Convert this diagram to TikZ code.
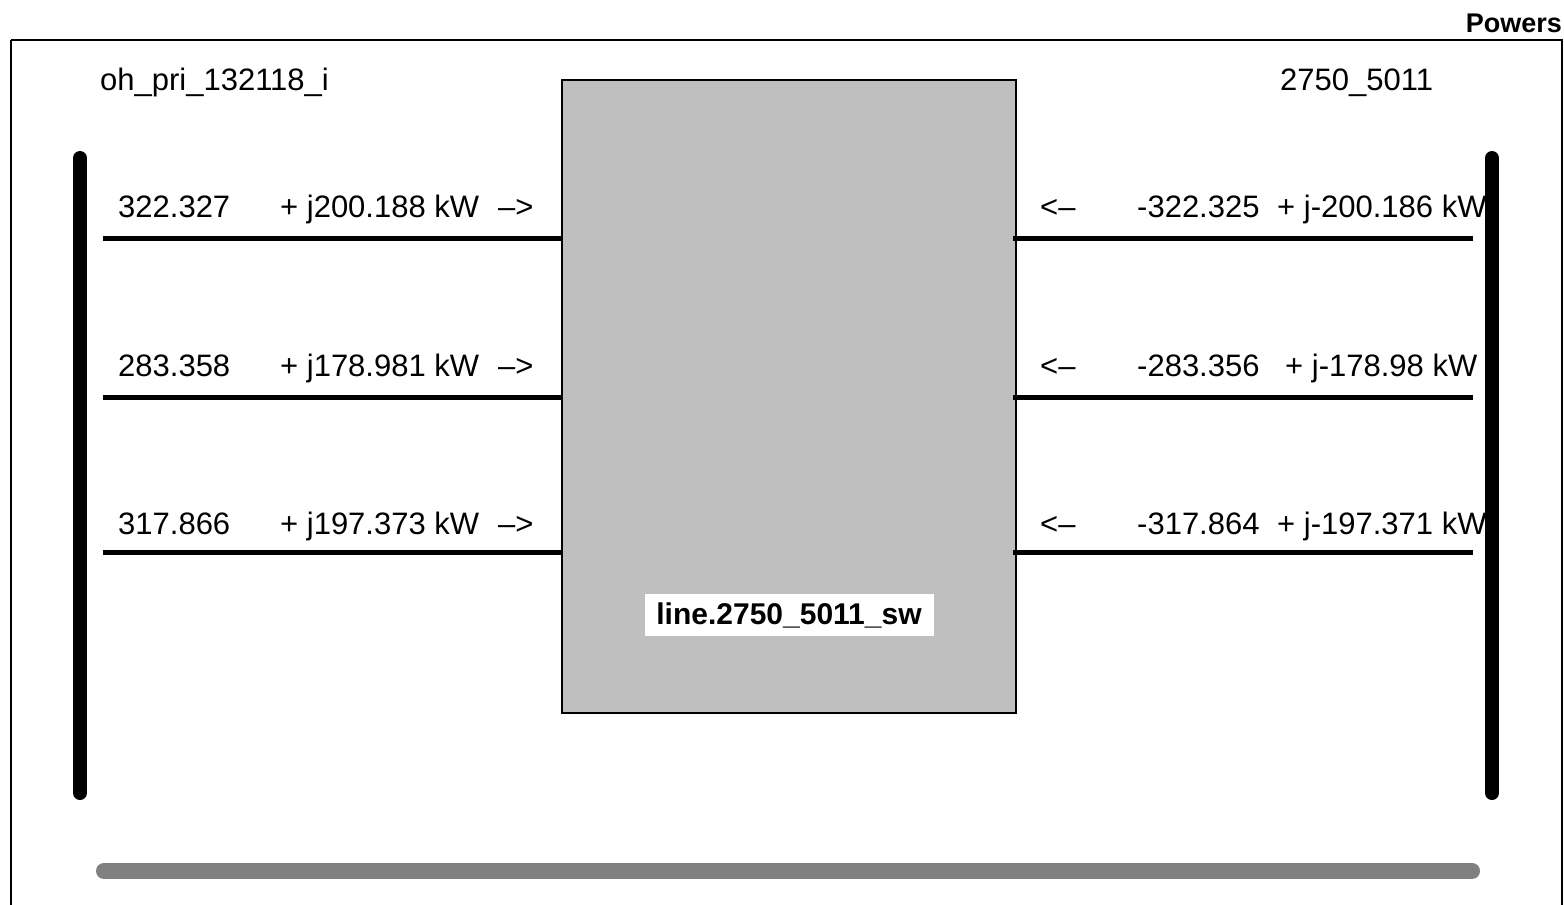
\documentclass[tikz,border=0pt]{standalone}
\usepackage{fontspec}
\setmainfont{Liberation Sans}
\begin{document}
\begin{tikzpicture}[x=1pt,y=-1pt,
  lbl/.style={inner sep=0pt,font=\fontsize{31}{31}\selectfont},
  bus/.style={line width=14pt,line cap=round,black},
  feeder/.style={line width=5pt,black},
  devbox/.style={draw=black,line width=2pt,fill=black!25},
  tag/.style={fill=white,inner sep=0pt,minimum width=289pt,minimum height=42pt,font=\bfseries\fontsize{30}{30}\selectfont},
  rail/.style={line width=16pt,line cap=round,black!50}]
\useasboundingbox (0,0) rectangle (1564,905);
\clip (0,0) rectangle (1564,905);
\fill[white] (0,0) rectangle (1564,905);
% frame
\draw[line width=2pt] (11,40) -- (1562,40) -- (1562,960) (11,40) -- (11,960);
\node[lbl,anchor=base east,font=\bfseries\fontsize{27}{27}\selectfont] (title) at (1562,32) {Powers};
% device box
\node[devbox,anchor=north west,minimum width=454pt,minimum height=633pt,inner sep=0pt] (dev) at (561,79) {};
\node[tag] (devname) at (789,615) {line.2750\_5011\_sw};
% bus names
\node[lbl,anchor=base west] (busL) at (100,90) {oh\_pri\_132118\_i};
\node[lbl,anchor=base west] (busR) at (1280,90) {2750\_5011};
% feeder coordinates
\foreach \r/\y in {1/238,2/397,3/552}{
  \coordinate (L\r) at (103,\y);
  \coordinate (Ld\r) at (563,\y);
  \coordinate (Rd\r) at (1013,\y);
  \coordinate (R\r) at (1473,\y);
  \draw[feeder] (L\r) -- (Ld\r);
  \draw[feeder] (Rd\r) -- (R\r);
}
% left labels
\node[lbl,anchor=base west] (p1) at (118,217) {322.327};
\node[lbl,anchor=base west] (q1) at (280,217) {+ j200.188 kW};
\node[lbl,anchor=base west] (a1) at (498,217) {–>};
\node[lbl,anchor=base west] (p2) at (118,376) {283.358};
\node[lbl,anchor=base west] (q2) at (280,376) {+ j178.981 kW};
\node[lbl,anchor=base west] (a2) at (498,376) {–>};
\node[lbl,anchor=base west] (p3) at (118,534) {317.866};
\node[lbl,anchor=base west] (q3) at (280,534) {+ j197.373 kW};
\node[lbl,anchor=base west] (a3) at (498,534) {–>};
% right labels
\node[lbl,anchor=base west] (b1) at (1040,217) {<–};
\node[lbl,anchor=base west] (r1) at (1137,217) {-322.325};
\node[lbl,anchor=base west] (s1) at (1277,217) {+ j-200.186 kW};
\node[lbl,anchor=base west] (b2) at (1040,376) {<–};
\node[lbl,anchor=base west] (r2) at (1137,376) {-283.356};
\node[lbl,anchor=base west] (s2) at (1285,376) {+ j-178.98 kW};
\node[lbl,anchor=base west] (b3) at (1040,534) {<–};
\node[lbl,anchor=base west] (r3) at (1137,534) {-317.864};
\node[lbl,anchor=base west] (s3) at (1277,534) {+ j-197.371 kW};
% buses
\coordinate (LT) at (80,158);
\coordinate (LB) at (80,793);
\coordinate (RT) at (1492,158);
\coordinate (RB) at (1492,793);
\draw[bus] (LT) -- (LB);
\draw[bus] (RT) -- (RB);
% bottom rail
\coordinate (G1) at (104,871);
\coordinate (G2) at (1472,871);
\draw[rail] (G1) -- (G2);
\end{tikzpicture}
\end{document}
